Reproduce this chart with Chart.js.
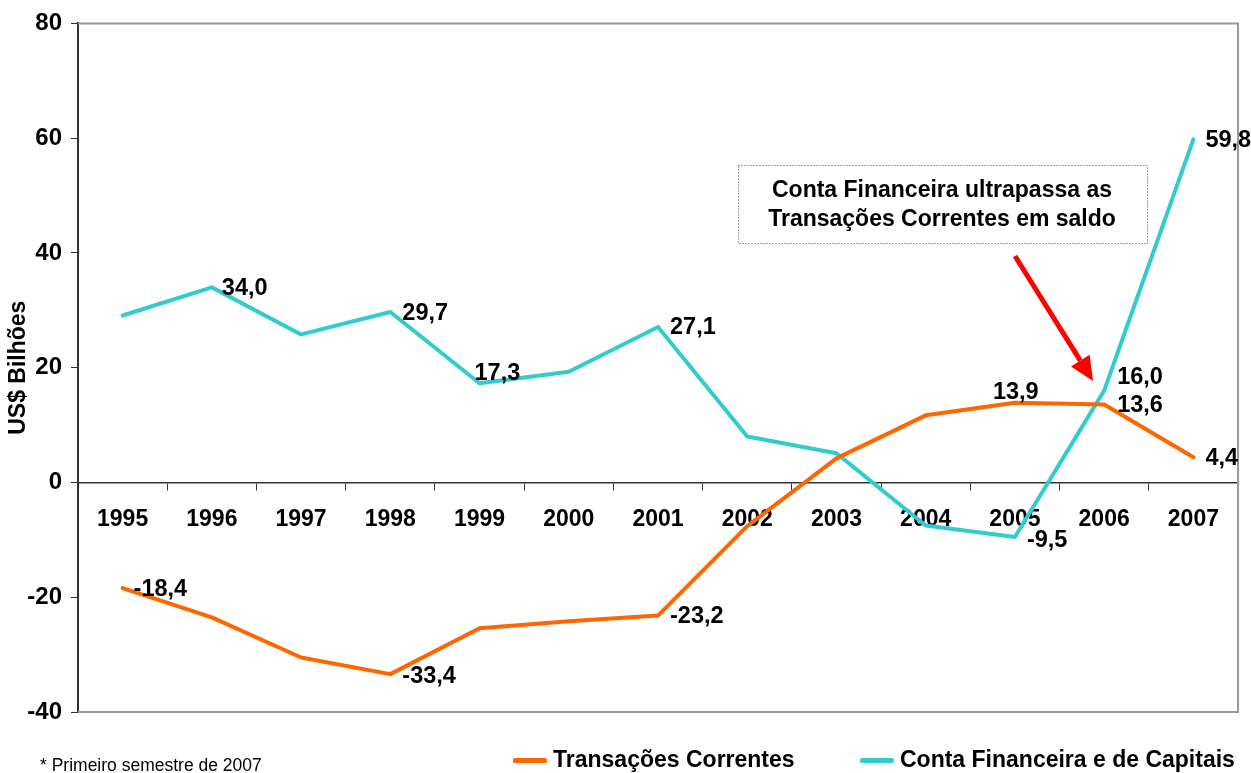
<!DOCTYPE html>
<html>
<head>
<meta charset="utf-8">
<script src="https://cdn.jsdelivr.net/npm/chart.js@4/dist/chart.umd.min.js"></script>
<style>
    body { margin: 0; background: #fff; font-family: "Liberation Sans", Arial, sans-serif; }
    #wrap { position: relative; width: 1251px; height: 773px; }
    .note { position: absolute; left: 40px; top: 755px; font-size: 17.5px; color: #000; }
    .legend { position: absolute; top: 746px; font-size: 23px; font-weight: bold; color: #000; white-space: nowrap; }
    .legend .swatch { display: inline-block; width: 34px; height: 5px; vertical-align: middle; margin-right: 6px; border-radius: 2px; }
</style>
</head>
<body>
<div id="wrap">
    <canvas id="chart"></canvas>
    <div class="note">* Primeiro semestre de 2007</div>
    <div class="legend" style="left: 513px;"><span class="swatch" style="background:#FF6600"></span>Transações Correntes</div>
    <div class="legend" style="left: 860px;"><span class="swatch" style="background:#33CCCC"></span>Conta Financeira e de Capitais</div>
</div>
<script>
// Data
const years = ['1995', '1996', '1997', '1998', '1999', '2000', '2001', '2002', '2003', '2004', '2005', '2006', '2007'];
const transacoesCorrentes = [-18.4, -23.5, -30.5, -33.4, -25.4, -24.2, -23.2, -7.6, 4.2, 11.7, 13.9, 13.6, 4.4];
const contaFinanceira = [29.1, 34.0, 25.8, 29.7, 17.3, 19.3, 27.1, 8.0, 5.1, -7.5, -9.5, 16.0, 59.8];
const yTicks = [-40, -20, 0, 20, 40, 60, 80];

// which points get a value label (index -> [dx, dy] text offset)
const tcLabelOffsets = { 0: [11, 1], 3: [12, 2], 6: [12, 1], 10: [-22, -10], 11: [13, 1], 12: [12, 1] };
const cfLabelOffsets = { 1: [10, 1], 3: [12, 1], 4: [-5, -10], 6: [12, 1], 10: [12, 4], 11: [13, -13], 12: [12, 1] };

const FONT = '"Liberation Sans", Arial, sans-serif';

const fmt = v => v.toFixed(1).replace('.', ',');

// value labels next to the points
const valueLabels = {
    id: 'valueLabels',
    afterDatasetsDraw(chart) {
        const ctx = chart.ctx;
        const offsets = [tcLabelOffsets, cfLabelOffsets];
        ctx.save();
        ctx.font = 'bold 23.5px ' + FONT;
        ctx.fillStyle = '#000';
        ctx.textAlign = 'left';
        ctx.textBaseline = 'middle';
        chart.data.datasets.forEach((ds, di) => {
            const meta = chart.getDatasetMeta(di);
            Object.keys(offsets[di]).forEach(k => {
                const i = +k;
                const pt = meta.data[i];
                const [dx, dy] = offsets[di][k];
                ctx.fillText(fmt(ds.data[i]), pt.x + dx, pt.y + dy);
            });
        });
        ctx.restore();
    }
};

// gray frame on top/right/bottom, annotation box and red arrow
const decorations = {
    id: 'decorations',
    beforeDatasetsDraw(chart) {
        const { ctx, chartArea: a } = chart;
        ctx.save();
        ctx.strokeStyle = '#999';
        ctx.lineWidth = 2;
        ctx.beginPath();
        ctx.moveTo(a.left, a.top);
        ctx.lineTo(a.right, a.top);
        ctx.lineTo(a.right, a.bottom);
        ctx.lineTo(a.left, a.bottom);
        ctx.stroke();
        ctx.restore();
    },
    afterDraw(chart) {
        const ctx = chart.ctx;
        ctx.save();
        // dotted box
        ctx.fillStyle = '#fff';
        ctx.fillRect(738, 165, 409, 78);
        ctx.strokeStyle = '#444';
        ctx.lineWidth = 1;
        ctx.setLineDash([1, 2]);
        ctx.strokeRect(738.5, 165.5, 409, 78);
        ctx.setLineDash([]);
        ctx.fillStyle = '#000';
        ctx.font = 'bold 23px ' + FONT;
        ctx.textAlign = 'center';
        ctx.textBaseline = 'middle';
        ctx.fillText('Conta Financeira ultrapassa as', 942, 191);
        ctx.fillText('Transações Correntes em saldo', 942, 220);

        // arrow
        const x0 = 1015, y0 = 256, x1 = 1093, y1 = 381;
        const len = Math.hypot(x1 - x0, y1 - y0);
        const ux = (x1 - x0) / len, uy = (y1 - y0) / len;
        const head = 24, half = 11;
        const bx = x1 - ux * head, by = y1 - uy * head;
        ctx.strokeStyle = '#FF0000';
        ctx.lineWidth = 5;
        ctx.beginPath();
        ctx.moveTo(x0, y0);
        ctx.lineTo(bx, by);
        ctx.stroke();
        ctx.fillStyle = '#FF0000';
        ctx.beginPath();
        ctx.moveTo(x1, y1);
        ctx.lineTo(bx - uy * half, by + ux * half);
        ctx.lineTo(bx + uy * half, by - ux * half);
        ctx.closePath();
        ctx.fill();
        ctx.restore();
    }
};

const ctx = document.getElementById('chart').getContext('2d');
new Chart(ctx, {
    type: 'line',
    data: {
        labels: years,
        datasets: [
            {
                label: 'Transações Correntes',
                data: transacoesCorrentes,
                borderColor: '#FF6600',
                borderWidth: 4,
                pointRadius: 0,
                tension: 0,
                borderJoinStyle: 'round',
                borderCapStyle: 'round'
            },
            {
                label: 'Conta Financeira e de Capitais',
                data: contaFinanceira,
                borderColor: '#33CCCC',
                borderWidth: 4,
                pointRadius: 0,
                tension: 0,
                borderJoinStyle: 'round',
                borderCapStyle: 'round'
            }
        ]
    },
    options: {
        responsive: true,
        maintainAspectRatio: false,
        animation: false,
        layout: {
            padding: { left: 0, top: 22, right: 13, bottom: 61 }
        },
        plugins: {
            legend: { display: false },
            tooltip: { enabled: false }
        },
        scales: {
            x: {
                position: { y: 0 },
                offset: true,
                grid: {
                    offset: true,
                    drawOnChartArea: false,
                    tickLength: 7,
                    color: '#333'
                },
                border: { color: '#333', width: 1.5 },
                ticks: {
                    color: '#000',
                    font: { family: FONT, size: 23, weight: 'bold' },
                    padding: 16,
                    maxRotation: 0
                }
            },
            y: {
                min: -40,
                max: 80,
                afterBuildTicks: scale => {
                    scale.ticks = yTicks.map(v => ({ value: v }));
                },
                afterFit: scale => {
                    scale.width = 78;
                },
                grid: {
                    drawOnChartArea: false,
                    tickLength: 7,
                    color: '#333'
                },
                border: { color: '#333', width: 2 },
                ticks: {
                    color: '#000',
                    font: { family: FONT, size: 24, weight: 'bold' },
                    padding: 9
                },
                title: {
                    display: true,
                    text: 'US$ Bilhões',
                    color: '#000',
                    font: { family: FONT, size: 23, weight: 'bold' },
                    padding: { top: 5, bottom: 0 }
                }
            }
        }
    },
    plugins: [decorations, valueLabels]
});
</script>
</body>
</html>
